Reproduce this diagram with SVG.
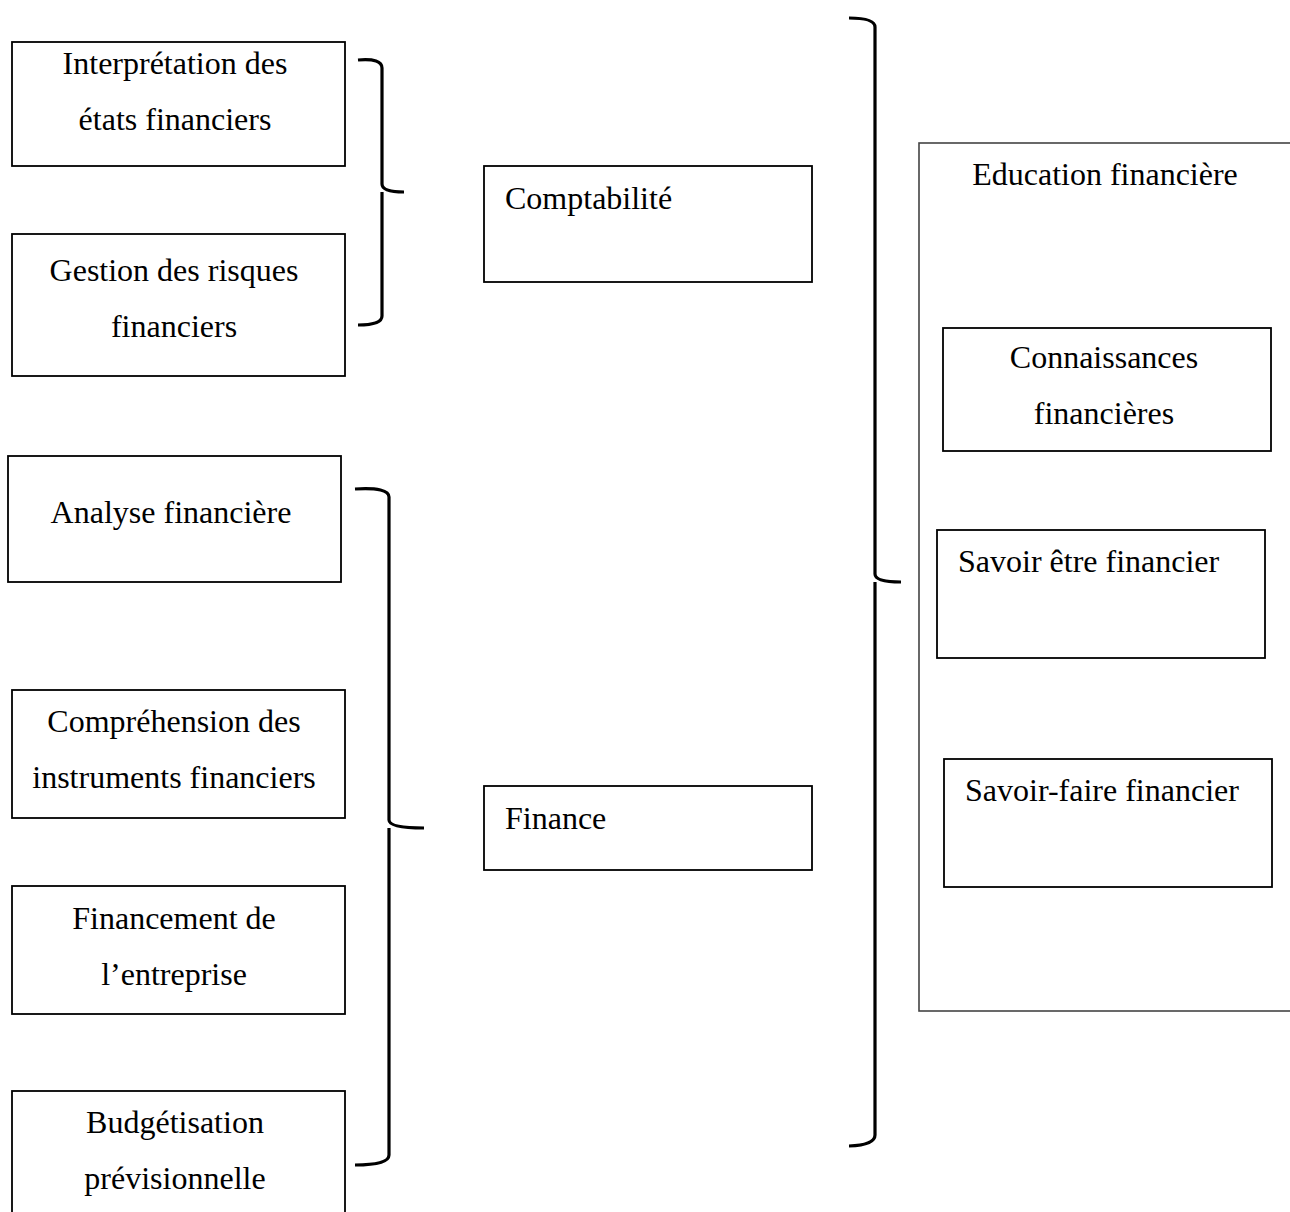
<svg xmlns="http://www.w3.org/2000/svg" width="1290" height="1212" viewBox="0 0 1290 1212">
  <style>
    .box { fill: #fff; stroke: #000; stroke-width: 1.8; }
    .outer { fill: none; stroke: #444; stroke-width: 1.6; }
    .brace { fill: none; stroke: #000; stroke-width: 3.2; stroke-linejoin: round; }
    text { font-family: "Liberation Serif", "Times New Roman", serif; font-size: 32px; fill: #000; }
    .c { text-anchor: middle; }
  </style>
  <rect width="1290" height="1212" fill="#fff"/>

  <!-- Connectors: curly braces grouping the nodes -->
  <g id="connectors">
    <path class="brace" d="M358,60 Q382,58 382,68 L382,184 Q382,192 404,192 M382,192 Q382,200 382,205 L382,316 Q382,325 358,325"/>
    <path class="brace" d="M355,489 Q389,487 389,497 L389,820 Q389,828 424,828 M389,828 Q389,836 389,841 L389,1155 Q389,1165 355,1165"/>
    <path class="brace" d="M849,18 Q875,18 875,27 L875,574 Q875,582 901,582 M875,582 Q875,590 875,595 L875,1135 Q875,1145 849,1146"/>
  </g>

  <!-- Left column -->
  <g id="interpretation">
    <rect class="box" x="12" y="42" width="333" height="124"/>
    <text class="c" x="175" y="74">Interprétation des</text>
    <text class="c" x="175" y="130">états financiers</text>
  </g>
  <g id="gestion-risques">
    <rect class="box" x="12" y="234" width="333" height="142"/>
    <text class="c" x="174" y="281">Gestion des risques</text>
    <text class="c" x="174" y="337">financiers</text>
  </g>
  <g id="analyse">
    <rect class="box" x="8" y="456" width="333" height="126"/>
    <text class="c" x="171" y="523">Analyse financière</text>
  </g>
  <g id="instruments">
    <rect class="box" x="12" y="690" width="333" height="128"/>
    <text class="c" x="174" y="732">Compréhension des</text>
    <text class="c" x="174" y="788">instruments financiers</text>
  </g>
  <g id="financement">
    <rect class="box" x="12" y="886" width="333" height="128"/>
    <text class="c" x="174" y="929">Financement de</text>
    <text class="c" x="174" y="985">l’entreprise</text>
  </g>
  <g id="budgetisation">
    <rect class="box" x="12" y="1091" width="333" height="140"/>
    <text class="c" x="175" y="1133">Budgétisation</text>
    <text class="c" x="175" y="1189">prévisionnelle</text>
  </g>

  <!-- Middle column -->
  <g id="comptabilite">
    <rect class="box" x="484" y="166" width="328" height="116"/>
    <text x="505" y="209">Comptabilité</text>
  </g>
  <g id="finance">
    <rect class="box" x="484" y="786" width="328" height="84"/>
    <text x="505" y="829">Finance</text>
  </g>

  <!-- Right column -->
  <g id="education">
    <rect class="outer" x="919" y="143" width="400" height="868"/>
    <text class="c" x="1105" y="185">Education financière</text>
  </g>
  <g id="connaissances">
    <rect class="box" x="943" y="328" width="328" height="123"/>
    <text class="c" x="1104" y="368">Connaissances</text>
    <text class="c" x="1104" y="424">financières</text>
  </g>
  <g id="savoir-etre">
    <rect class="box" x="937" y="530" width="328" height="128"/>
    <text x="958" y="572">Savoir être financier</text>
  </g>
  <g id="savoir-faire">
    <rect class="box" x="944" y="759" width="328" height="128"/>
    <text x="965" y="801">Savoir-faire financier</text>
  </g>
</svg>
